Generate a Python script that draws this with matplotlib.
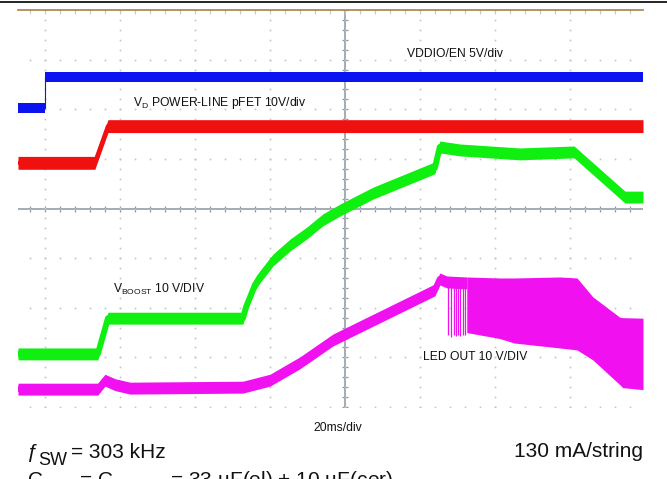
import matplotlib
matplotlib.use("Agg")
import matplotlib.pyplot as plt
from matplotlib.lines import Line2D
import numpy as np

plt.rcParams['font.family'] = ['Liberation Sans', 'DejaVu Sans']
plt.rcParams['mathtext.default'] = 'regular'

# time axis in ms (20 ms/div), vertical axis in screen divisions
XLIM = (-87.2, 79.5)
YLIM = (-4.0, 4.0)

# VDDIO/EN 5V/div
en_t = [-87.2, -80.0, -80.0, 79.5]
en_v = [2.03, 2.03, 2.65, 2.65]

# V_D power-line pFET 10V/div
vd_t = [-87.2, -66.7, -63.2, 79.5]
vd_v = [0.92, 0.92, 1.66, 1.66]

# V_BOOST 10 V/DIV
vb_t = [-87.2, -65.9, -63.2, -27.2, -26.4, -24.0, -22.7, -20.8, -19.2, -16.8, -14.7,
        -10.1, -5.9, -1.3, 7.5, 24.0, 25.3, 30.7, 46.7, 61.1, 74.7, 79.5]
vb_v = [-2.93, -2.93, -2.21, -2.21, -1.99, -1.54, -1.38, -1.20, -1.04, -0.88, -0.74,
        -0.49, -0.23, -0.03, 0.31, 0.82, 1.24, 1.18, 1.10, 1.14, 0.23, 0.23]

# LED OUT 10 V/DIV (before the dimming/switching section)
led_t = [-87.2, -65.9, -64.0, -61.3, -57.3, -27.2, -20.0, -12.0, -3.2, 2.7, 24.0, 25.3, 27.2, 32.5]
led_v = [-3.64, -3.64, -3.46, -3.55, -3.62, -3.60, -3.46, -3.11, -2.65, -2.43, -1.64, -1.42, -1.48, -1.50]

# LED OUT switching envelope
sw_t = [32.5, 41.3, 45.1, 57.3, 61.9, 66.1, 73.3, 74.1, 79.5]
sw_top = [-1.38, -1.40, -1.40, -1.38, -1.40, -1.78, -2.19, -2.20, -2.21]
sw_bot = [-2.50, -2.62, -2.71, -2.81, -2.85, -3.05, -3.55, -3.61, -3.65]
spike_t = [27.6, 28.3, 29.0, 29.6, 30.2, 30.8, 31.4, 32.0]
spike_bot = [-2.55, -2.58, -2.55, -2.57, -2.55, -2.56, -2.54, -2.55]

W, H = 667, 479
fig = plt.figure(figsize=(W / 100, H / 100), dpi=100)
ax = fig.add_axes([18 / W, (H - 407) / H, 625 / W, 397 / H])
ax.set_xlim(*XLIM)
ax.set_ylim(*YLIM)
ax.axis('off')

# graticule: dotted major lines
dot_c = '#c4c4c4'
xmaj = np.arange(-80, 81, 20)
ymaj = np.arange(-4, 4.01, 1)
xmin = np.arange(-88, 81, 4)
ymin = np.arange(-4, 4.01, 0.2)
for x in xmaj:
    ax.plot(np.full_like(ymin, x), ymin, ls='none', marker='s', ms=1.2, mec='none', mfc=dot_c)
for y in ymaj:
    ax.plot(xmin, np.full_like(xmin, y, dtype=float), ls='none', marker='s', ms=1.2, mec='none', mfc=dot_c)

# center cross with minor ticks
ax_c = '#8a96a2'
ax.axhline(0, color=ax_c, lw=1.1, zorder=1)
ax.axvline(0, color=ax_c, lw=1.1, zorder=1)
ax.plot(xmin, np.zeros_like(xmin, dtype=float), ls='none', marker='|', ms=5, mew=0.9, color=ax_c, zorder=1)
ax.plot(np.zeros_like(ymin), ymin, ls='none', marker='_', ms=5, mew=0.9, color=ax_c, zorder=1)

# top border with ticks
ax.axhline(4.0, color='#b08a5a', lw=1.3, clip_on=False, zorder=3)
ax.plot(xmin, np.full_like(xmin, 3.95, dtype=float), ls='none', marker='|', ms=3,
        mew=0.8, color='#c8c8c8', zorder=1)

# traces drawn as noise bands, with a stroke so sloped parts keep their width
def band(t, v, h, color, stroke=4.3):
    t = np.asarray(t, float)
    v = np.asarray(v, float)
    ax.fill_between(t, v - h, v + h, color=color, lw=0, zorder=4)
    ax.plot(t, v, color=color, lw=stroke, solid_joinstyle='round',
            solid_capstyle='butt', zorder=4)

band(en_t, en_v, 0.10, '#0a14f0', stroke=0.8)
band(vd_t, vd_v, 0.13, '#f01010', stroke=3.0)
band(vb_t, vb_v, 0.12, '#10f010')
band(led_t, led_v, 0.12, '#f010f0')
ax.fill_between(sw_t, sw_bot, sw_top, color='#f010f0', lw=0, zorder=4)
for t, b in zip(spike_t, spike_bot):
    ax.vlines(t, b, -1.45, color='#f010f0', lw=0.9, zorder=4)

# channel labels
lbl = dict(fontsize=8.7, color='#111111', va='center', zorder=6)
ax.text(16.5, 3.11, 'VDDIO/EN 5V/div', **lbl)
ax.text(-56.5, 2.12, 'V$_D$ POWER-LINE pFET 10V/div', **lbl)
ax.text(-61.9, -1.64, 'V$_{BOOST}$ 10 V/DIV', **lbl)
ax.text(20.8, -3.0, 'LED OUT 10 V/DIV', **lbl)

# figure-level text in pixel positions
def ftext(x, y, s, **kw):
    fig.text(x / W, 1 - y / H, s, **kw)

fig.add_artist(Line2D([0, 1], [1 - 2 / H, 1 - 2 / H], color='black', lw=1.2))
ftext(337.5, 428, '20ms/div', fontsize=8.7, ha='center', va='center', color='#111111')
ftext(26, 458, 'ƒ', fontsize=15, va='baseline', color='#111111')
ftext(38, 465, 'SW', fontsize=13, va='baseline', color='#111111')
ftext(71, 458, '= 303 kHz', fontsize=15, va='baseline', color='#111111')
ftext(643, 457, '130 mA/string', fontsize=15, va='baseline', ha='right', color='#111111')
# third line sits partly below the bottom edge, as on the original sheet
ftext(27, 486, 'C$_{OUT}$ = C$_{BOOST}$ = 33 µF(el) + 10 µF(cer)', fontsize=15,
      va='baseline', color='#111111')

fig.savefig('out.png', dpi=100)
